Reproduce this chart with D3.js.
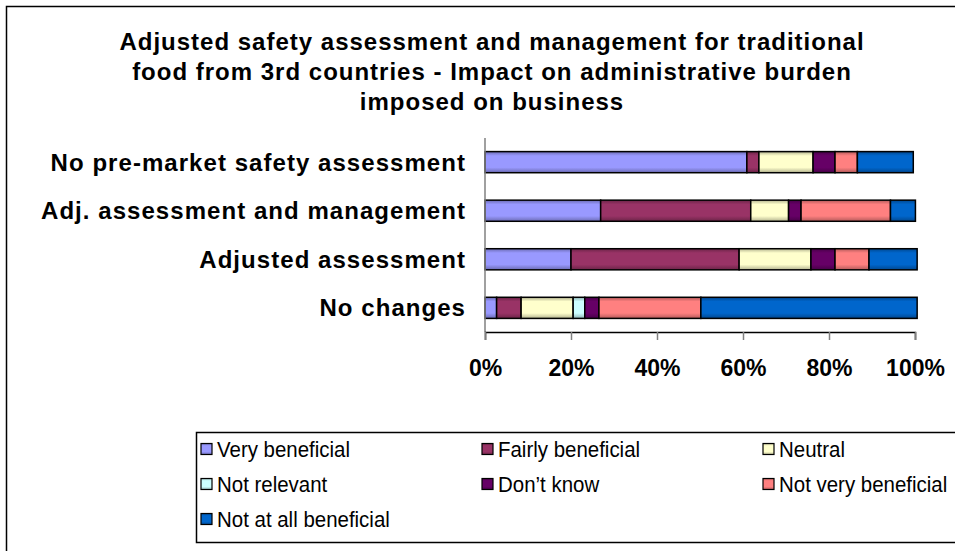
<!DOCTYPE html>
<html>
<head>
<meta charset="utf-8">
<script src="https://cdn.jsdelivr.net/npm/d3@7"></script>
<style>
  body { margin: 0; background: #fff; }
  svg { display: block; font-family: "Liberation Sans", Arial, sans-serif; }
</style>
</head>
<body>
<svg width="955" height="551"></svg>
<script>
// data ======================================================
var titleLines = [
  "Adjusted safety assessment and management for traditional",
  "food from 3rd countries - Impact on administrative burden",
  "imposed on business"
];
var categories = [
  "No pre-market safety assessment",
  "Adj. assessment and management",
  "Adjusted assessment",
  "No changes"
];
var seriesNames = ["Very beneficial", "Fairly beneficial", "Neutral", "Not relevant",
                   "Don\u2019t know", "Not very beneficial", "Not at all beneficial"];
var seriesColors = ["#9999FF", "#993366", "#FFFFCC", "#CCFFFF", "#660066", "#FF8080", "#0066CC"];

// percent of answers, per category (same order as categories)
var veryBeneficial     = [60.9, 26.9, 20.0,  2.7];
var fairlyBeneficial   = [ 2.8, 34.9, 39.1,  5.7];
var neutral            = [12.6,  8.8, 16.7, 12.1];
var notRelevant        = [ 0.0,  0.0,  0.0,  2.7];
var dontKnow           = [ 5.1,  2.9,  5.6,  3.3];
var notVeryBeneficial  = [ 5.2, 20.8,  7.9, 23.7];
var notAtAllBeneficial = [13.0,  5.8, 11.2, 50.3];

var tickValues = [0, 20, 40, 60, 80, 100];

// build table ================================================
var allSeries = [veryBeneficial, fairlyBeneficial, neutral, notRelevant,
                 dontKnow, notVeryBeneficial, notAtAllBeneficial];
var rows = categories.map(function(c, i) {
  var r = { category: c };
  seriesNames.forEach(function(s, j) { r[s] = allSeries[j][i]; });
  return r;
});
var stacked = d3.stack().keys(seriesNames)(rows);

var svg = d3.select("svg");

// outer frame (right and bottom edges fall outside the picture)
svg.append("rect")
  .attr("x", 6.5).attr("y", 6.5)
  .attr("width", 1000).attr("height", 600)
  .attr("fill", "none").attr("stroke", "#000").attr("stroke-width", 1.5);

// gradients, Excel style shading
var defs = svg.append("defs");
seriesColors.forEach(function(col, i) {
  var dark = d3.interpolateRgb(col, "#000")(0.3);
  var g = defs.append("linearGradient").attr("id", "grad" + i)
    .attr("x1", 0).attr("y1", 0).attr("x2", 0).attr("y2", 1);
  g.append("stop").attr("offset", "0%").attr("stop-color", dark);
  g.append("stop").attr("offset", "20%").attr("stop-color", col);
  g.append("stop").attr("offset", "75%").attr("stop-color", col);
  g.append("stop").attr("offset", "100%").attr("stop-color", dark);
});

// title
svg.append("g").selectAll("text")
  .data(titleLines)
  .enter().append("text")
  .attr("x", 492)
  .attr("y", function(d, i) { return 50 + i * 30; })
  .attr("text-anchor", "middle")
  .attr("font-size", 24)
  .attr("font-weight", "bold")
  .attr("letter-spacing", 1.0)
  .text(function(d) { return d; });

// scales
var x = d3.scaleLinear().domain([0, 100]).range([485, 915]);
var y = d3.scaleBand().domain(categories).range([138, 332]).paddingInner(0.565).paddingOuter(0.28);

// bars
svg.append("g").selectAll("g")
  .data(stacked)
  .enter().append("g")
  .attr("fill", function(d, i) { return "url(#grad" + i + ")"; })
  .selectAll("rect")
  .data(function(d) { return d.filter(function(p) { return p[1] - p[0] > 0; }); })
  .enter().append("rect")
  .attr("x", function(d) { return x(d[0]); })
  .attr("y", function(d) { return y(d.data.category); })
  .attr("width", function(d) { return x(d[1]) - x(d[0]); })
  .attr("height", y.bandwidth())
  .attr("stroke", "#000")
  .attr("stroke-width", 1.5);

// category axis
svg.append("line")
  .attr("x1", x(0)).attr("x2", x(0))
  .attr("y1", 138).attr("y2", 332)
  .attr("stroke", "#808080").attr("stroke-width", 1.5);

svg.append("g").selectAll("text")
  .data(categories)
  .enter().append("text")
  .attr("x", 466)
  .attr("y", function(d) { return y(d) + y.bandwidth() / 2; })
  .attr("dy", "0.36em")
  .attr("text-anchor", "end")
  .attr("font-size", 24)
  .attr("font-weight", "bold")
  .attr("letter-spacing", 1.05)
  .text(function(d) { return d; });

// value axis
var xAxis = svg.append("g")
  .attr("transform", "translate(0,332)")
  .call(d3.axisBottom(x)
    .tickValues(tickValues)
    .tickSize(8)
    .tickPadding(20)
    .tickFormat(function(d) { return d + "%"; }));
xAxis.select(".domain").attr("stroke", "#000").attr("stroke-width", 1.5);
xAxis.selectAll(".tick line").attr("stroke", "#808080").attr("stroke-width", 1.5);
xAxis.selectAll(".tick text")
  .attr("font-family", "Liberation Sans, Arial, sans-serif")
  .attr("font-size", 23)
  .attr("font-weight", "bold")
  .attr("fill", "#000");

// legend
var legend = svg.append("g");
legend.append("rect")
  .attr("x", 196.5).attr("y", 432.5)
  .attr("width", 800).attr("height", 110)
  .attr("fill", "#fff").attr("stroke", "#000").attr("stroke-width", 1.5);

var item = legend.selectAll(".item")
  .data(seriesNames)
  .enter().append("g")
  .attr("class", "item")
  .attr("transform", function(d, i) {
    return "translate(" + (201 + (i % 3) * 281) + "," + (449 + Math.floor(i / 3) * 35) + ")";
  });
item.append("rect")
  .attr("x", 0).attr("y", -5.5)
  .attr("width", 11).attr("height", 11)
  .attr("fill", function(d, i) { return "url(#grad" + i + ")"; })
  .attr("stroke", "#000").attr("stroke-width", 1.2);
item.append("text")
  .attr("transform", "translate(16,0) scale(0.93,1)")
  .attr("dy", "0.36em")
  .attr("font-size", 22)
  .text(function(d) { return d; });
</script>
</body>
</html>
